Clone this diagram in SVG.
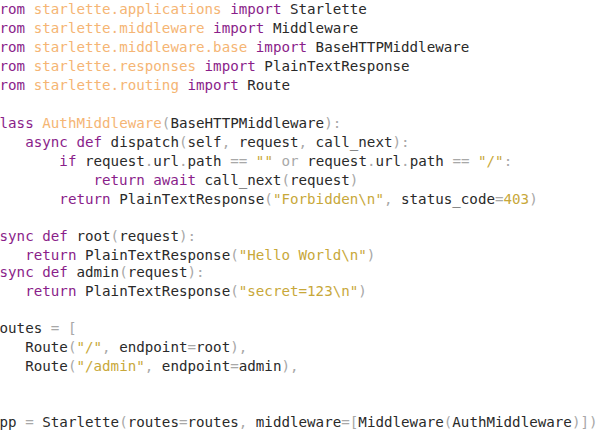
<svg xmlns="http://www.w3.org/2000/svg" width="600" height="433" viewBox="0 0 600 433">
<style>
text{font-family:"DejaVu Sans Mono",monospace;font-size:14.2px;fill:#2a2a2a;white-space:pre}
.k{fill:#8a1e8a}.m{fill:#f5b574}.s{fill:#c8a83a}.p{fill:#a8a8a8}
</style>
<rect width="600" height="433" fill="#fff"/>
<g id="code" xml:space="preserve">
<text x="-9" y="14"><tspan class="k">from</tspan> <tspan class="m">starlette.applications</tspan> <tspan class="k">import</tspan> Starlette</text>
<text x="-9" y="33"><tspan class="k">from</tspan> <tspan class="m">starlette.middleware</tspan> <tspan class="k">import</tspan> Middleware</text>
<text x="-9" y="52"><tspan class="k">from</tspan> <tspan class="m">starlette.middleware.base</tspan> <tspan class="k">import</tspan> BaseHTTPMiddleware</text>
<text x="-9" y="71"><tspan class="k">from</tspan> <tspan class="m">starlette.responses</tspan> <tspan class="k">import</tspan> PlainTextResponse</text>
<text x="-9" y="90"><tspan class="k">from</tspan> <tspan class="m">starlette.routing</tspan> <tspan class="k">import</tspan> Route</text>
<text x="-9" y="128"><tspan class="k">class</tspan> <tspan class="m">AuthMiddleware</tspan><tspan class="p">(</tspan>BaseHTTPMiddleware<tspan class="p">):</tspan></text>
<text x="-9" y="147">    <tspan class="k">async def</tspan> dispatch<tspan class="p">(</tspan>self<tspan class="p">,</tspan> request<tspan class="p">,</tspan> call_next<tspan class="p">):</tspan></text>
<text x="-9" y="166">        <tspan class="k">if</tspan> request<tspan class="p">.</tspan>url<tspan class="p">.</tspan>path <tspan class="p">==</tspan> <tspan class="s">""</tspan> <tspan class="p">or</tspan> request<tspan class="p">.</tspan>url<tspan class="p">.</tspan>path <tspan class="p">==</tspan> <tspan class="s">"/"</tspan><tspan class="p">:</tspan></text>
<text x="-9" y="185">            <tspan class="k">return await</tspan> call_next<tspan class="p">(</tspan>request<tspan class="p">)</tspan></text>
<text x="-9" y="204">        <tspan class="k">return</tspan> PlainTextResponse<tspan class="p">(</tspan><tspan class="s">"Forbidden\n"</tspan><tspan class="p">,</tspan> status_code<tspan class="p">=</tspan><tspan class="s">403</tspan><tspan class="p">)</tspan></text>
<text x="-9" y="241"><tspan class="k">async def</tspan> root<tspan class="p">(</tspan>request<tspan class="p">):</tspan></text>
<text x="-9" y="260">    <tspan class="k">return</tspan> PlainTextResponse<tspan class="p">(</tspan><tspan class="s">"Hello World\n"</tspan><tspan class="p">)</tspan></text>
<text x="-9" y="277"><tspan class="k">async def</tspan> admin<tspan class="p">(</tspan>request<tspan class="p">):</tspan></text>
<text x="-9" y="296">    <tspan class="k">return</tspan> PlainTextResponse<tspan class="p">(</tspan><tspan class="s">"secret=123\n"</tspan><tspan class="p">)</tspan></text>
<text x="-9" y="333">routes <tspan class="p">= [</tspan></text>
<text x="-9" y="352">    Route<tspan class="p">(</tspan><tspan class="s">"/"</tspan><tspan class="p">,</tspan> endpoint<tspan class="p">=</tspan>root<tspan class="p">),</tspan></text>
<text x="-9" y="371">    Route<tspan class="p">(</tspan><tspan class="s">"/admin"</tspan><tspan class="p">,</tspan> endpoint<tspan class="p">=</tspan>admin<tspan class="p">),</tspan></text>
<text x="-9" y="427">app <tspan class="p">=</tspan> Starlette<tspan class="p">(</tspan>routes<tspan class="p">=</tspan>routes<tspan class="p">,</tspan> middleware<tspan class="p">=[</tspan>Middleware<tspan class="p">(</tspan>AuthMiddleware<tspan class="p">)])</tspan></text>
</g>
</svg>
